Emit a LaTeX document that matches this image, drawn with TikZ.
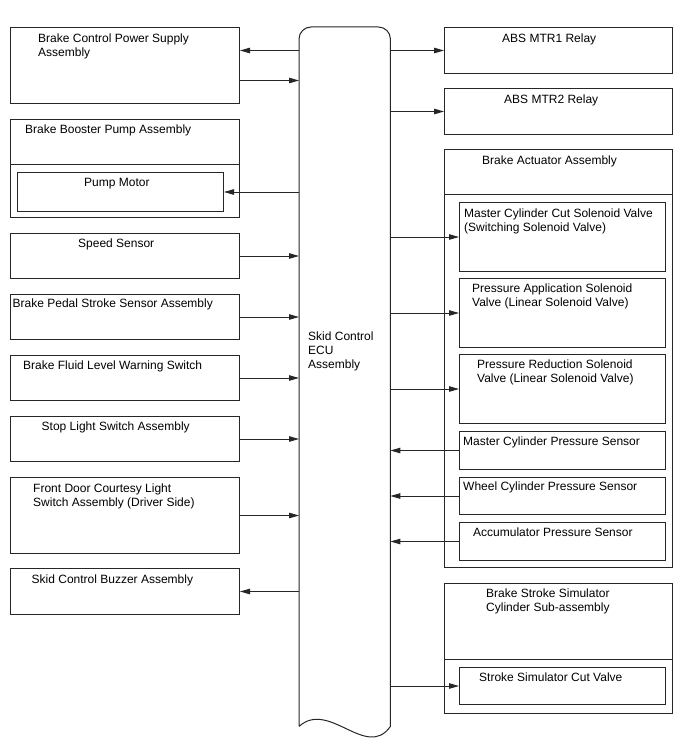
\documentclass[tikz,border=0pt]{standalone}
\usepackage{fontspec}
\setmainfont{Liberation Sans}
\usetikzlibrary{arrows.meta,positioning,calc}
\definecolor{WireGray}{HTML}{262626}

\begin{document}
\begin{tikzpicture}[x=1bp,y=-1bp,
    blk/.style 2 args={draw=WireGray,line width=1bp,anchor=north west,inner sep=0pt,
                       minimum width=#1bp,minimum height=#2bp},
    lbl/.style={anchor=base west,align=left,inner sep=0pt,
                font=\fontsize{12bp}{14bp}\selectfont},
    sig/.style={draw=WireGray,line width=0.9bp,-{Triangle[length=10bp,width=5.5bp]}}]
  \useasboundingbox (0,0) rectangle (688,755);
  \fill[white] (0,0) rectangle (688,755);

  % Skid control ECU (wavy bottom)
  \node[anchor=north west,inner sep=0pt,minimum width=91bp,minimum height=699bp] (ecu) at (299,27) {};
  \draw[WireGray,line width=1bp] (ecu.south west) [rounded corners=12bp] -- (ecu.north west)
    -- (ecu.north east) [sharp corners] -- (ecu.south east)
    .. controls +(-24,34) and +(30,-27) .. (ecu.south west);
  % (multi-line labels sit on the baseline of their last line)
  \node[lbl] (t-ecu) at (308,368) {Skid Control\\ECU\\Assembly};

  % Left column
  \node[blk={229}{76}] (pwr) at (10,27) {};
  \node[lbl] (t-pwr) at (38,57) {Brake Control Power Supply\\Assembly};
  \node[blk={229}{45}] (boost) at (10,119) {};
  \node[blk={229}{53}] (boostbody) at (10,164) {};
  \node[lbl] (t-boost) at (25,133) {Brake Booster Pump Assembly};
  \node[blk={206}{39}] (pump) at (17,172) {};
  \node[lbl] (t-pump) at (84,186) {Pump Motor};
  \node[blk={229}{45}] (spd) at (10,233) {};
  \node[lbl] (t-spd) at (78,247) {Speed Sensor};
  \node[blk={229}{45}] (pedal) at (10,294) {};
  \node[lbl] (t-pedal) at (12.5,307) {Brake Pedal Stroke Sensor Assembly};
  \node[blk={229}{45}] (fluid) at (10,355) {};
  \node[lbl] (t-fluid) at (23,369) {Brake Fluid Level Warning Switch};
  \node[blk={229}{45}] (stop) at (10,416) {};
  \node[lbl] (t-stop) at (41.5,430) {Stop Light Switch Assembly};
  \node[blk={229}{76}] (door) at (10,477) {};
  \node[lbl] (t-door) at (33,506) {Front Door Courtesy Light\\Switch Assembly (Driver Side)};
  \node[blk={229}{46}] (buzz) at (10,568) {};
  \node[lbl] (t-buzz) at (31.5,583) {Skid Control Buzzer Assembly};

  % Right column
  \node[blk={228}{46}] (mtr1) at (444,27) {};
  \node[lbl] (t-mtr1) at (502,43) {ABS MTR1 Relay};
  \node[blk={228}{46}] (mtr2) at (444,88) {};
  \node[lbl] (t-mtr2) at (504,103) {ABS MTR2 Relay};
  \node[blk={228}{45}] (act) at (444,149) {};
  \node[blk={228}{373}] (actbody) at (444,194) {};
  \node[lbl] (t-act) at (482,164) {Brake Actuator Assembly};
  \node[blk={206}{69}] (mccut) at (459,202) {};
  \node[lbl] (t-mccut) at (464,231) {Master Cylinder Cut Solenoid Valve\\(Switching Solenoid Valve)};
  \node[blk={206}{69}] (papp) at (459,278) {};
  \node[lbl] (t-papp) at (472,306) {Pressure Application Solenoid\\Valve (Linear Solenoid Valve)};
  \node[blk={206}{69}] (pred) at (459,354) {};
  \node[lbl] (t-pred) at (477,382) {Pressure Reduction Solenoid\\Valve (Linear Solenoid Valve)};
  \node[blk={206}{38}] (mcps) at (459,431) {};
  \node[lbl] (t-mcps) at (463,445) {Master Cylinder Pressure Sensor};
  \node[blk={206}{37}] (wcps) at (459,477) {};
  \node[lbl] (t-wcps) at (463,490) {Wheel Cylinder Pressure Sensor};
  \node[blk={206}{38}] (accps) at (459,522) {};
  \node[lbl] (t-accps) at (473,536) {Accumulator Pressure Sensor};
  \node[blk={228}{76}] (sim) at (444,583) {};
  \node[blk={228}{54}] (simbody) at (444,659) {};
  \node[lbl] (t-sim) at (486,611) {Brake Stroke Simulator\\Cylinder Sub-assembly};
  \node[blk={206}{37}] (simcut) at (459,667) {};
  \node[lbl] (t-simcut) at (479,681) {Stroke Simulator Cut Valve};

  % Signals, left side
  \draw[sig] ([yshift=15bp]ecu.west |- pwr.east) -- ([yshift=15bp]pwr.east);
  \draw[sig] ([yshift=-15bp]pwr.east) -- ([yshift=-15bp]ecu.west |- pwr.east);
  \draw[sig] (ecu.west |- pump.east) -- (pump.east);
  \draw[sig] (spd.east) -- (ecu.west |- spd.east);
  \draw[sig] (pedal.east) -- (ecu.west |- pedal.east);
  \draw[sig] (fluid.east) -- (ecu.west |- fluid.east);
  \draw[sig] (stop.east) -- (ecu.west |- stop.east);
  \draw[sig] (door.east) -- (ecu.west |- door.east);
  \draw[sig] (ecu.west |- buzz.east) -- (buzz.east);

  % Signals, right side
  \draw[sig] (ecu.east |- mtr1.west) -- (mtr1.west);
  \draw[sig] (ecu.east |- mtr2.west) -- (mtr2.west);
  \draw[sig] (ecu.east |- mccut.west) -- (mccut.west);
  \draw[sig] (ecu.east |- papp.west) -- (papp.west);
  \draw[sig] (ecu.east |- pred.west) -- (pred.west);
  \draw[sig] (mcps.west) -- (ecu.east |- mcps.west);
  \draw[sig] (wcps.west) -- (ecu.east |- wcps.west);
  \draw[sig] (accps.west) -- (ecu.east |- accps.west);
  \draw[sig] (ecu.east |- simcut.west) -- (simcut.west);
\end{tikzpicture}
\end{document}
